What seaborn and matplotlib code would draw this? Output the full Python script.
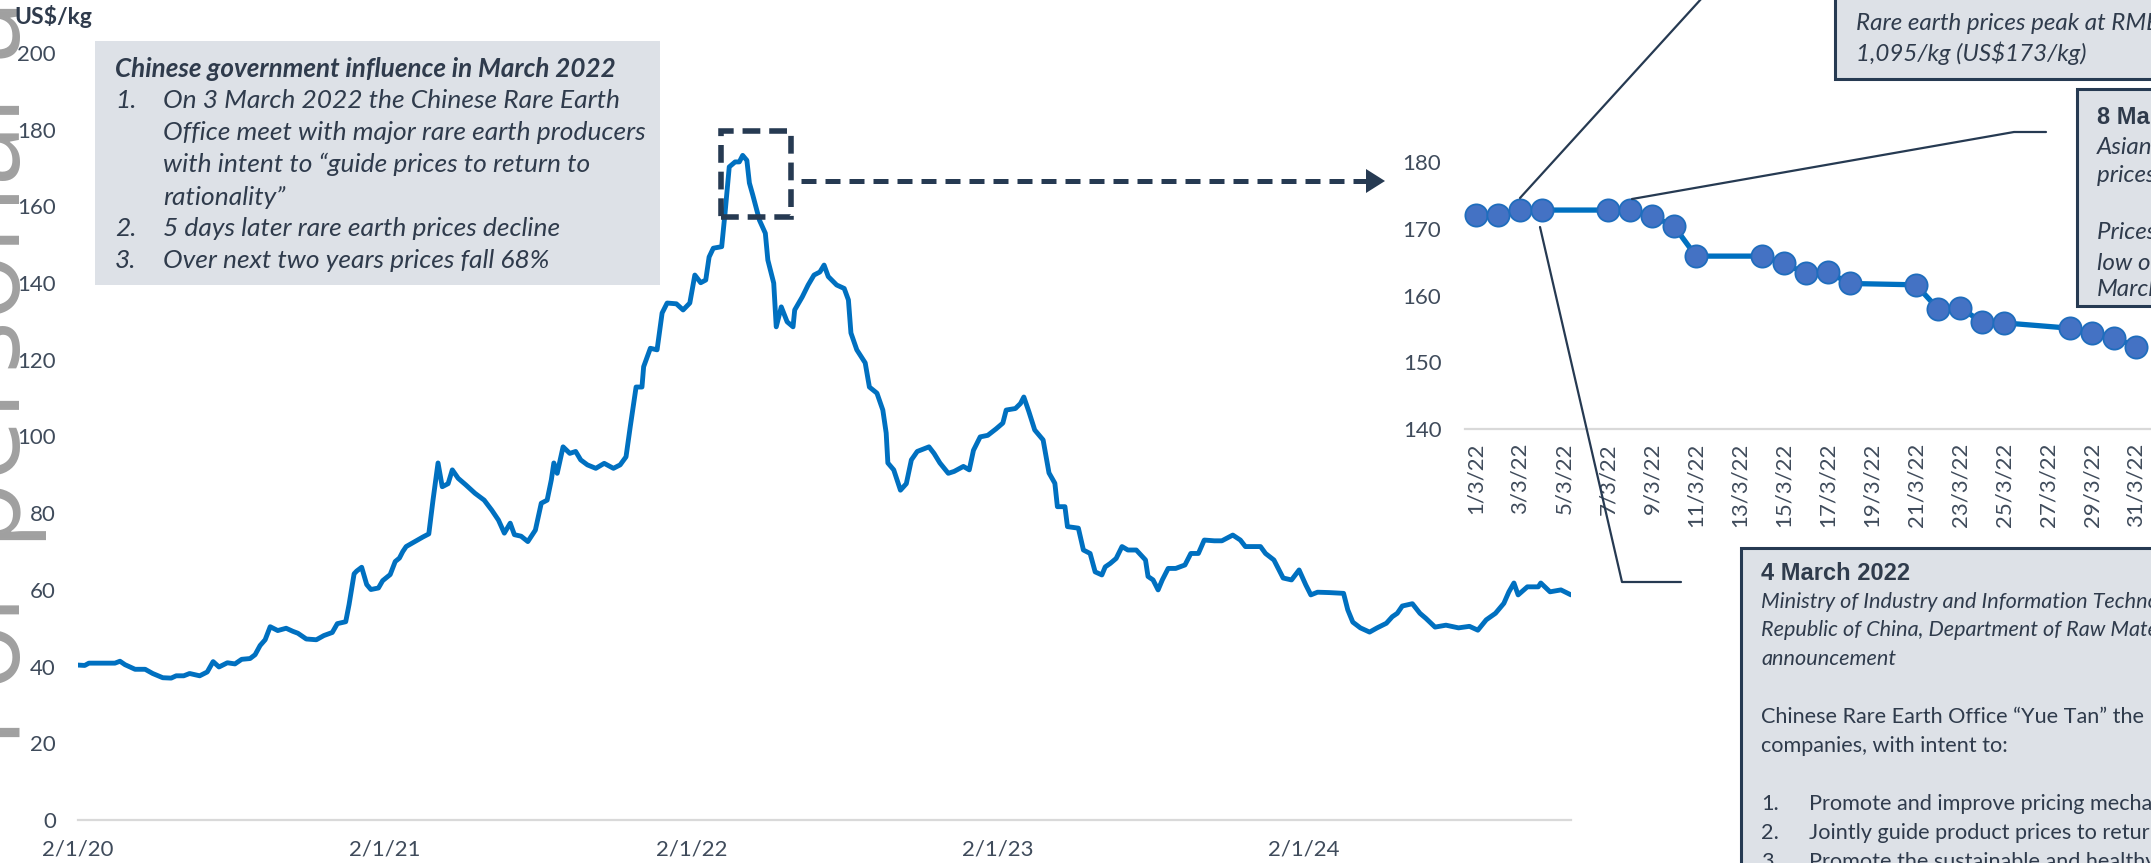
import numpy as np
import pandas as pd
import matplotlib
matplotlib.use("Agg")
import matplotlib.pyplot as plt
import matplotlib.dates as mdates
from matplotlib.patches import Rectangle, Polygon
from matplotlib.lines import Line2D
import seaborn as sns

# ---------------- data ----------------
price_dates = [
    "2020-01-02", "2020-01-10", "2020-01-15", "2020-02-15", "2020-02-21", "2020-02-27", "2020-03-10",
    "2020-03-22", "2020-03-31", "2020-04-12", "2020-04-22", "2020-04-28", "2020-05-07", "2020-05-14",
    "2020-05-26", "2020-06-04", "2020-06-11", "2020-06-18", "2020-06-28", "2020-07-07", "2020-07-15",
    "2020-07-25", "2020-07-31", "2020-08-06", "2020-08-12", "2020-08-18", "2020-08-27", "2020-09-06",
    "2020-09-14", "2020-09-20", "2020-09-30", "2020-10-12", "2020-10-21", "2020-10-31", "2020-11-06",
    "2020-11-16", "2020-11-20", "2020-11-26", "2020-11-29", "2020-12-05", "2020-12-11", "2020-12-16",
    "2020-12-25", "2020-12-30", "2021-01-08", "2021-01-14", "2021-01-19", "2021-01-23", "2021-01-27",
    "2021-02-16", "2021-02-23", "2021-02-28", "2021-03-06", "2021-03-11", "2021-03-18", "2021-03-23",
    "2021-03-30", "2021-04-08", "2021-04-19", "2021-04-30", "2021-05-09", "2021-05-17", "2021-05-24",
    "2021-05-31", "2021-06-05", "2021-06-13", "2021-06-21", "2021-06-30", "2021-07-07", "2021-07-14",
    "2021-07-19", "2021-07-22", "2021-07-26", "2021-08-02", "2021-08-10", "2021-08-17", "2021-08-23",
    "2021-08-31", "2021-09-10", "2021-09-20", "2021-10-01", "2021-10-09", "2021-10-16", "2021-10-21",
    "2021-10-28", "2021-11-04", "2021-11-06", "2021-11-14", "2021-11-22", "2021-11-28", "2021-12-04",
    "2021-12-15", "2021-12-23", "2021-12-31", "2022-01-06", "2022-01-13", "2022-01-19", "2022-01-23",
    "2022-01-28", "2022-02-07", "2022-02-11", "2022-02-16", "2022-02-23", "2022-02-28", "2022-03-04",
    "2022-03-09", "2022-03-12", "2022-03-16", "2022-03-24", "2022-03-31", "2022-04-03", "2022-04-10",
    "2022-04-13", "2022-04-19", "2022-04-26", "2022-05-03", "2022-05-05", "2022-05-14", "2022-05-21",
    "2022-05-28", "2022-06-04", "2022-06-09", "2022-06-14", "2022-06-24", "2022-07-03", "2022-07-08",
    "2022-07-11", "2022-07-18", "2022-07-28", "2022-08-02", "2022-08-11", "2022-08-18", "2022-08-22",
    "2022-08-24", "2022-08-31", "2022-09-08", "2022-09-15", "2022-09-21", "2022-09-28", "2022-10-12",
    "2022-10-18", "2022-10-25", "2022-11-04", "2022-11-11", "2022-11-22", "2022-11-29", "2022-12-04",
    "2022-12-12", "2022-12-21", "2022-12-31", "2023-01-08", "2023-01-12", "2023-01-23", "2023-01-29",
    "2023-02-02", "2023-02-08", "2023-02-15", "2023-02-25", "2023-03-04", "2023-03-11", "2023-03-14",
    "2023-03-23", "2023-03-26", "2023-04-08", "2023-04-14", "2023-04-22", "2023-04-28", "2023-05-06",
    "2023-05-10", "2023-05-16", "2023-05-23", "2023-05-30", "2023-06-06", "2023-06-16", "2023-06-27",
    "2023-06-30", "2023-07-06", "2023-07-12", "2023-07-17", "2023-07-24", "2023-08-02", "2023-08-13",
    "2023-08-20", "2023-08-29", "2023-09-05", "2023-09-17", "2023-09-26", "2023-10-09", "2023-10-18",
    "2023-10-24", "2023-11-11", "2023-11-17", "2023-11-27", "2023-12-08", "2023-12-18", "2023-12-27",
    "2024-01-04", "2024-01-10", "2024-01-18", "2024-02-01", "2024-02-18", "2024-02-23", "2024-02-29",
    "2024-03-09", "2024-03-20", "2024-03-29", "2024-04-09", "2024-04-16", "2024-04-22", "2024-04-28",
    "2024-05-10", "2024-05-19", "2024-05-26", "2024-06-06", "2024-06-19", "2024-07-04", "2024-07-17",
    "2024-07-27", "2024-08-06", "2024-08-17", "2024-08-27", "2024-09-02", "2024-09-08", "2024-09-13",
    "2024-09-24", "2024-10-07", "2024-10-10", "2024-10-21", "2024-11-03", "2024-11-15",
]
price_usd = [
    40.4, 40.3, 40.9, 40.9, 41.4, 40.5, 39.3,
    39.3, 38.2, 37.1, 37.0, 37.6, 37.6, 38.2,
    37.6, 38.6, 41.3, 39.9, 41.0, 40.7, 41.9,
    42.1, 43.1, 45.5, 47.0, 50.4, 49.4, 50.0,
    49.2, 48.7, 47.2, 47.0, 48.1, 48.9, 51.2,
    51.7, 56.2, 64.2, 64.9, 65.9, 61.4, 60.1,
    60.5, 62.4, 64.0, 67.4, 68.3, 70.0, 71.3,
    73.8, 74.6, 83.4, 93.1, 86.9, 87.7, 91.3,
    89.1, 87.4, 85.2, 83.4, 80.8, 78.2, 74.8,
    77.4, 74.4, 74.0, 72.6, 75.6, 82.6, 83.4,
    88.7, 93.1, 90.4, 97.3, 95.6, 96.1, 93.9,
    92.6, 91.7, 93.0, 91.7, 92.6, 94.7, 102.5,
    112.9, 112.9, 118.2, 123.0, 122.6, 132.2, 134.8,
    134.6, 133.0, 134.8, 142.1, 140.1, 140.8, 146.8,
    149.1, 149.5, 158.3, 170.3, 171.6, 171.6, 173.3,
    172.0, 166.1, 163.0, 156.4, 153.0, 146.0, 140.0,
    128.6, 133.8, 129.9, 128.6, 133.0, 136.4, 139.5,
    142.1, 142.9, 144.7, 141.7, 139.5, 138.6, 135.6,
    127.0, 122.6, 119.2, 112.9, 111.3, 106.9, 100.9,
    93.1, 91.3, 86.0, 87.7, 93.9, 96.1, 97.3,
    95.6, 93.1, 90.4, 90.9, 92.2, 91.3, 96.4,
    99.9, 100.3, 102.0, 103.5, 106.9, 107.3, 108.6,
    110.3, 106.5, 101.7, 99.1, 90.5, 87.8, 81.7,
    81.7, 76.5, 76.1, 70.4, 69.5, 64.7, 63.9,
    66.0, 66.9, 68.2, 71.3, 70.4, 70.4, 67.8,
    63.5, 62.6, 60.0, 62.6, 65.6, 65.6, 66.5,
    69.5, 69.5, 73.0, 72.8, 72.8, 74.3, 73.0,
    71.3, 71.3, 69.5, 67.8, 63.1, 62.6, 65.2,
    61.3, 58.7, 59.4, 59.3, 59.1, 54.8, 51.6,
    50.1, 49.0, 50.1, 51.3, 53.0, 53.9, 55.8,
    56.4, 53.9, 52.6, 50.3, 50.8, 50.1, 50.5,
    49.5, 52.2, 53.9, 56.5, 59.5, 61.8, 58.7,
    60.8, 60.8, 61.8, 59.5, 60.0, 58.7,
]

march_days = [1, 2, 3, 4, 7, 8, 9, 10, 11, 14, 15, 16, 17, 18, 21, 22, 23, 24, 25, 28, 29, 30, 31]
march_usd = [172.0, 172.0, 172.8, 172.8, 172.8, 172.8, 171.9, 170.4, 165.9, 165.9, 164.8, 163.3,
             163.5, 161.8, 161.6, 158.0, 158.2, 156.0, 155.9, 155.1, 154.4, 153.7, 152.3]

main_yticks = [0, 20, 40, 60, 80, 100, 120, 140, 160, 180, 200]
main_xtick_dates = ["2020-01-02", "2021-01-02", "2022-01-02", "2023-01-02", "2024-01-02"]
main_xtick_labels = ["2/1/20", "2/1/21", "2/1/22", "2/1/23", "2/1/24"]
inset_yticks = [140, 150, 160, 170, 180]
inset_label_days = [1, 3, 5, 7, 9, 11, 13, 15, 17, 19, 21, 23, 25, 27, 29, 31]
inset_xtick_labels = ["1/3/22", "3/3/22", "5/3/22", "7/3/22", "9/3/22", "11/3/22", "13/3/22", "15/3/22",
                      "17/3/22", "19/3/22", "21/3/22", "23/3/22", "25/3/22", "27/3/22", "29/3/22", "31/3/22"]

# ---------------- style ----------------
sns.set_theme(style="white")
plt.rcParams["font.family"] = ["Lato", "DejaVu Sans"]

W, H = 2151, 863
fig = plt.figure(figsize=(W / 100, H / 100), dpi=100)
fig.patch.set_facecolor("white")

def fx(px):
    return px / W

def fy(py):
    return 1 - py / H

NAVY = "#263a52"
TXT = "#2f3b4c"
TICK = "#3f4b5b"
BLUE = "#0070c0"
BOXFILL = "#dde1e7"
AXGRAY = "#d9d9d9"

# watermark (behind everything)
fig.text(fx(20), fy(315), "For personal use", rotation=90, rotation_mode="anchor",
         ha="center", va="baseline", fontsize=80, color="#a0a0a0",
         family=["Open Sans", "DejaVu Sans"], zorder=0)

# ---------------- main chart ----------------
ax = fig.add_axes([fx(78), fy(820), fx(1571) - fx(78), fy(53) - fy(820)])
ax.patch.set_alpha(0)
df = pd.DataFrame({"date": pd.to_datetime(price_dates), "usd": price_usd})
sns.lineplot(data=df, x="date", y="usd", ax=ax, color=BLUE, linewidth=3.5, zorder=3)
ax.set_xlim(pd.Timestamp(price_dates[0]), pd.Timestamp(price_dates[-1]))
ax.set_ylim(0, 200)
ax.set_yticks(main_yticks)
ax.set_yticklabels([str(v) for v in main_yticks])
ax.set_xticks(pd.to_datetime(main_xtick_dates))
ax.set_xticklabels(main_xtick_labels)
for s in ["left", "right", "top"]:
    ax.spines[s].set_visible(False)
ax.spines["bottom"].set_color(AXGRAY)
ax.spines["bottom"].set_linewidth(1.6)
ax.tick_params(axis="y", length=0, pad=16, labelsize=16, labelcolor=TICK)
ax.tick_params(axis="x", length=6, width=1.5, color=AXGRAY, pad=8, labelsize=16, labelcolor=TICK)
ax.set_xlabel("")
ax.set_ylabel("")
ax.grid(False)

# dashed box around the peak
x0 = pd.Timestamp("2022-02-06")
x1 = pd.Timestamp("2022-05-01")
rect = Rectangle((mdates.date2num(x0), 157.2), mdates.date2num(x1) - mdates.date2num(x0), 22.5,
                 fill=False, edgecolor=NAVY, linewidth=4.0, linestyle=(0, (3.2, 1.6)), zorder=5)
ax.add_patch(rect)

fig.text(fx(14), fy(17), "US$/kg", fontsize=16.5, fontweight="bold", color=TXT, ha="left", va="center")

# main annotation box
fig.add_artist(Rectangle((fx(95), fy(285)), fx(660) - fx(95), fy(41) - fy(285),
                         transform=fig.transFigure, facecolor=BOXFILL, edgecolor="none", zorder=1))
fig.text(fx(115), fy(69), "Chinese government influence in March 2022", fontsize=18.7,
         fontweight="bold", style="italic", color=TXT, ha="left", va="center", zorder=2)
box_lines = [
    ("1.", "On 3 March 2022 the Chinese Rare Earth", 100),
    ("", "Office meet with major rare earth producers", 133),
    ("", "with intent to \u201cguide prices to return to", 164),
    ("", "rationality\u201d", 197),
    ("2.", "5 days later rare earth prices decline", 229),
    ("3.", "Over next two years prices fall 68%", 260),
]
for num, line, yy in box_lines:
    if num:
        fig.text(fx(115), fy(yy), num, fontsize=19, style="italic", color=TXT, ha="left", va="center", zorder=2)
    fig.text(fx(163), fy(yy), line, fontsize=19, style="italic", color=TXT, ha="left", va="center", zorder=2)

# dashed arrow to the inset
fig.add_artist(Line2D([fx(801), fx(1368)], [fy(181), fy(181)], transform=fig.transFigure,
                      color=NAVY, linewidth=3.6, linestyle=(0, (3.0, 1.8)), zorder=4))
fig.add_artist(Polygon([[fx(1366), fy(169)], [fx(1385), fy(181)], [fx(1366), fy(193)]],
                       closed=True, transform=fig.transFigure, facecolor=NAVY, edgecolor="none", zorder=4))

# ---------------- inset chart ----------------
ax2 = fig.add_axes([fx(1465), fy(429), fx(2151) - fx(1465), fy(162) - fy(429)])
ax2.patch.set_alpha(0)
dfm = pd.DataFrame({"day": march_days, "usd": march_usd})
sns.lineplot(data=dfm, x="day", y="usd", ax=ax2, color=BLUE, linewidth=3.8, marker="o",
             markersize=16, markerfacecolor="#4472c4", markeredgecolor="#1f6dbd",
             markeredgewidth=1.3, zorder=3, clip_on=False)
ax2.set_xlim(0.5, 0.5 + (2151 - 1465) / 22.0)
ax2.set_ylim(140, 180)
ax2.set_yticks(inset_yticks)
ax2.set_yticklabels([str(v) for v in inset_yticks])
ax2.set_xticks(inset_label_days)
ax2.set_xticklabels(inset_xtick_labels, rotation=90)
ax2.set_xticks([d - 0.5 for d in inset_label_days], minor=True)
for s in ["left", "right", "top"]:
    ax2.spines[s].set_visible(False)
ax2.spines["bottom"].set_color(AXGRAY)
ax2.spines["bottom"].set_linewidth(1.6)
ax2.tick_params(axis="y", length=0, pad=17, labelsize=16, labelcolor=TICK)
ax2.tick_params(axis="x", which="major", length=0, pad=10, labelsize=16, labelcolor=TICK)
ax2.tick_params(axis="x", which="minor", length=6, width=1.5, color=AXGRAY)
ax2.set_xlabel("")
ax2.set_ylabel("")
ax2.grid(False)

# leader lines
def fline(xs, ys, lw=1.6):
    fig.add_artist(Line2D([fx(x) for x in xs], [fy(y) for y in ys], transform=fig.transFigure,
                          color=NAVY, linewidth=lw, zorder=6))

fline([1520, 1702], [198, -2])
fline([1632, 2014, 2046], [199, 132, 132])
fline([1540, 1622, 1681], [227, 582, 582])

# callout boxes
def fbox(xl, yt, xr, yb):
    fig.add_artist(Rectangle((fx(xl), fy(yb)), fx(xr) - fx(xl), fy(yt) - fy(yb), transform=fig.transFigure,
                             facecolor=BOXFILL, edgecolor=NAVY, linewidth=2.2, zorder=7))

TOPFS = 17.4
fbox(1835, -10, 2170, 79)
fig.text(fx(1856), fy(23), "Rare earth prices peak at RMB", fontsize=TOPFS, style="italic", color=TXT,
         ha="left", va="center", zorder=8)
fig.text(fx(1856), fy(53), "1,095/kg (US$173/kg)", fontsize=TOPFS, style="italic", color=TXT,
         ha="left", va="center", zorder=8)

fbox(2077, 89, 2170, 306)
fig.text(fx(2097), fy(117), "8 March 2022", fontsize=17, fontweight="bold", color=TXT, ha="left",
         va="center", family=["Liberation Sans", "DejaVu Sans"], zorder=8)
for txt, yy in [("Asian Metal reports rare earth", 147), ("prices begin to decline", 175),
                ("Prices continue to fall to a", 232), ("low of US$152/kg by end of", 262),
                ("March", 290)]:
    fig.text(fx(2097), fy(yy), txt, fontsize=TOPFS, style="italic", color=TXT, ha="left", va="center", zorder=8)

BOTFS = 15.6
fbox(1741, 548, 2170, 880)
fig.text(fx(1761), fy(573), "4 March 2022", fontsize=17, fontweight="bold", color=TXT, ha="left",
         va="center", family=["Liberation Sans", "DejaVu Sans"], zorder=8)
for txt, yy, st in [
    ("Ministry of Industry and Information Technology of the People\u2019s", 602, "italic"),
    ("Republic of China, Department of Raw Materials Industry", 630, "italic"),
    ("announcement", 659, "italic"),
    ("Chinese Rare Earth Office \u201cYue Tan\u201d the major rare earth", 717, "normal"),
    ("companies, with intent to:", 746, "normal"),
]:
    fig.text(fx(1761), fy(yy), txt, fontsize=BOTFS, style=st, color=TXT, ha="left", va="center", zorder=8)
for num, txt, yy in [("1.", "Promote and improve pricing mechanisms", 804),
                     ("2.", "Jointly guide product prices to return to rationality", 833),
                     ("3.", "Promote the sustainable and healthy development", 862)]:
    fig.text(fx(1761), fy(yy), num, fontsize=BOTFS, color=TXT, ha="left", va="center", zorder=8)
    fig.text(fx(1809), fy(yy), txt, fontsize=BOTFS, color=TXT, ha="left", va="center", zorder=8)

fig.savefig("out.png", dpi=100, facecolor="white")
